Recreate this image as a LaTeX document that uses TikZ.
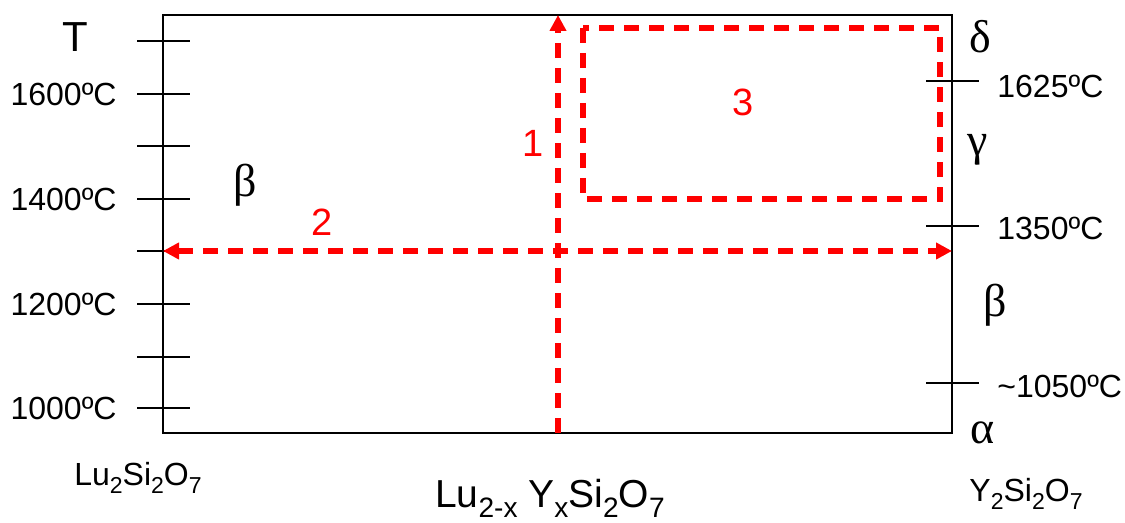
\documentclass[tikz,border=0pt]{standalone}
\usepackage{fontspec}
\setmainfont{Liberation Sans}
\newfontfamily\grkfont{Liberation Serif}
\usetikzlibrary{arrows.meta}
\definecolor{pathred}{RGB}{255,0,0}
\newcommand{\degr}{º}
\newcommand{\dn}[1]{\raisebox{-0.26em}{\scalebox{0.72}{#1}}}
\begin{document}
\begin{tikzpicture}[x=0.5pt, y=-0.5pt, >={Triangle[length=8pt, width=8pt]},
    frame/.style={draw, line width=0.9pt},
    tick/.style={line width=0.7pt},
    route/.style={draw=pathred, line width=2.6pt, dash pattern=on 7.5pt off 5pt},
    temp/.style={font=\fontsize{16}{18}\selectfont, inner sep=0pt},
    phase/.style={font=\grkfont\fontsize{23}{24}\selectfont, inner sep=0pt},
    num/.style={text=pathred, font=\fontsize{19}{20}\selectfont, inner sep=0pt},
    comp/.style={font=\fontsize{16}{18}\selectfont, inner sep=0pt}]
    \useasboundingbox (0,0) rectangle (1125,523);
    % frame of the diagram
    \coordinate (nw) at (163,15);
    \coordinate (se) at (952,433);
    \draw[frame] (nw) rectangle (se);
    % left temperature axis
    \foreach \y in {41,94,146,199,251,304,357,408}
        \draw[tick] (137,\y) -- (190,\y);
    \node[font=\fontsize{21}{22}\selectfont, inner sep=0pt] (T) at (75,37) {T};
    \node[temp, anchor=east] (t1600) at (117,94) {1600\degr C};
    \node[temp, anchor=east] (t1400) at (117,199) {1400\degr C};
    \node[temp, anchor=east] (t1200) at (117,304) {1200\degr C};
    \node[temp, anchor=east] (t1000) at (117,408) {1000\degr C};
    % right transition temperatures
    \foreach \y in {81,226,383}
        \draw[tick] (926,\y) -- (979,\y);
    \node[temp, anchor=west] (t1625) at (997,86) {1625\degr C};
    \node[temp, anchor=west] (t1350) at (997,228) {1350\degr C};
    \node[temp, anchor=west] (t1050) at (997,386) {\char`\~1050\degr C};
    % phases
    \node[phase] (betaL) at (245,185) {β};
    \node[phase] (delta) at (980,37) {δ};
    \node[phase] (gamma) at (978,150) {γ};
    \node[phase] (betaR) at (995,305) {β};
    \node[phase] (alpha) at (983,433) {α};
    % compositions
    \node[comp] (lu) at (138,478) {Lu\dn{2}Si\dn{2}O\dn{7}};
    \node[comp] (y) at (1026,494) {Y\dn{2}Si\dn{2}O\dn{7}};
    \node[font=\fontsize{19.5}{21}\selectfont, inner sep=0pt] (mix) at (550,498)
        {Lu\dn{2-x} Y\dn{x}Si\dn{2}O\dn{7}};
    % experimental paths
    \coordinate (p1a) at (558,433);
    \coordinate (p1b) at (558,15);
    \coordinate (p2a) at (163,251);
    \coordinate (p2b) at (952,251);
    \draw[route, ->] (p1a) -- (p1b);
    \draw[route, <->] (p2a) -- (p2b);
    \draw[route] (583,28) rectangle (940,199);
    \node[num] (n1) at (533,143) {1};
    \node[num] (n2) at (322,222) {2};
    \node[num] (n3) at (743,102) {3};
\end{tikzpicture}
\end{document}
